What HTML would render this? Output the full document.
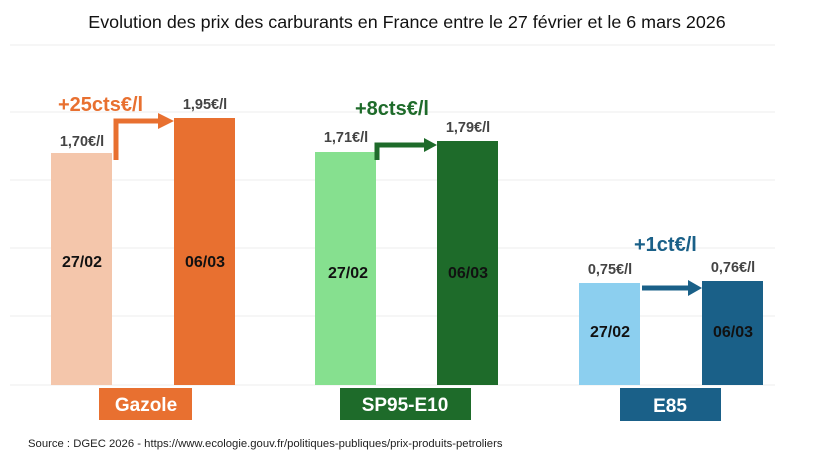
<!DOCTYPE html><html><head><style>
body{margin:0;width:813px;height:465px;background:#fff;overflow:hidden;font-family:"Liberation Sans",sans-serif}
</style></head><body>
<svg width="813" height="465" xmlns="http://www.w3.org/2000/svg" font-family="Liberation Sans, sans-serif">
<text x="407" y="28" text-anchor="middle" font-size="17.9" fill="#111">Evolution des prix des carburants en France entre le 27 février et le 6 mars 2026</text>
<g stroke="#ececec" stroke-width="1">
<line x1="10" x2="775" y1="45" y2="45"/><line x1="10" x2="775" y1="112" y2="112"/><line x1="10" x2="775" y1="180" y2="180"/><line x1="10" x2="775" y1="248" y2="248"/><line x1="10" x2="775" y1="316" y2="316"/><line x1="10" x2="775" y1="385" y2="385"/>
</g>
<rect x="51" y="153" width="61" height="232" fill="#f4c6ab"/>
<rect x="174" y="118" width="61" height="267" fill="#e87030"/>
<rect x="315" y="152" width="61" height="233" fill="#86e08f"/>
<rect x="437" y="141" width="61" height="244" fill="#1e6b2a"/>
<rect x="579" y="283" width="61" height="102" fill="#8ccfef"/>
<rect x="702" y="281" width="61" height="104" fill="#1a6088"/>
<g font-weight="bold" font-size="16" fill="#111" text-anchor="middle">
<text x="82" y="267">27/02</text><text x="205" y="267">06/03</text>
<text x="348" y="278">27/02</text><text x="468" y="278">06/03</text>
<text x="610" y="337">27/02</text><text x="733" y="337">06/03</text>
</g>
<g font-weight="bold" font-size="14.5" fill="#444" text-anchor="middle">
<text x="82" y="146">1,70€/l</text><text x="205" y="109">1,95€/l</text>
<text x="346" y="142">1,71€/l</text><text x="468" y="132">1,79€/l</text>
<text x="610" y="274">0,75€/l</text><text x="733" y="272">0,76€/l</text>
</g>
<g font-weight="bold" font-size="20">
<text x="58" y="111" fill="#e87030">+25cts€/l</text>
<text x="355" y="115" fill="#1e6b2a">+8cts€/l</text>
<text x="634" y="251" fill="#1a6088">+1ct€/l</text>
</g>
<path d="M116 160 V121 H160" fill="none" stroke="#e87030" stroke-width="5"/><polygon points="158,113 174,121 158,129" fill="#e87030"/>
<path d="M377 160 V145 H425" fill="none" stroke="#1e6b2a" stroke-width="5"/><polygon points="424,138 437,145 424,152" fill="#1e6b2a"/>
<path d="M642 288 H690" fill="none" stroke="#1a6088" stroke-width="5"/><polygon points="688,280 702,288 688,296" fill="#1a6088"/>
<rect x="99" y="388" width="93" height="32" fill="#e87030"/>
<rect x="340" y="388" width="131" height="32" fill="#1e6b2a"/>
<rect x="620" y="388" width="101" height="33" fill="#1a6088"/>
<g font-weight="bold" font-size="19" fill="#fff" text-anchor="middle">
<text x="146" y="411">Gazole</text><text x="405" y="411">SP95-E10</text><text x="670" y="412">E85</text>
</g>
<text x="28" y="447" font-size="11.3" fill="#222">Source : DGEC 2026 - https://www.ecologie.gouv.fr/politiques-publiques/prix-produits-petroliers</text>
</svg>
</body></html>
